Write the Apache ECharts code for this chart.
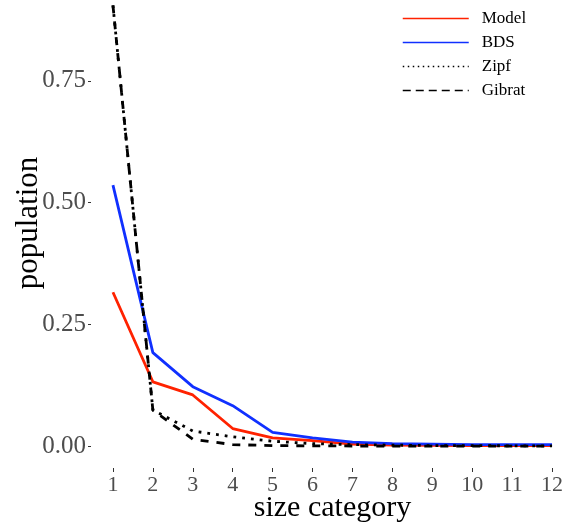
<!DOCTYPE html>
<html>
<head>
<meta charset="utf-8">
<script src="https://cdn.jsdelivr.net/npm/echarts@6/dist/echarts.min.js"></script>
<style>
  html, body { margin: 0; padding: 0; background: #fff; }
  #chart { width: 566px; height: 527px; }
</style>
</head>
<body>
<div id="chart"></div>
<script>
// size categories on the x axis
const categories = [1, 2, 3, 4, 5, 6, 7, 8, 9, 10, 11, 12];
// share of population per size category
const model  = [0.316, 0.132, 0.105, 0.036, 0.017, 0.011, 0.004, 0.002, 0.0015, 0.001, 0.001, 0.001];
const bds    = [0.536, 0.192, 0.122, 0.083, 0.028, 0.017, 0.008, 0.005, 0.004, 0.003, 0.003, 0.003];
const zipf   = [0.905, 0.074, 0.031, 0.019, 0.010, 0.005, 0.003, 0.002, 0.001, 0.001, 0.0005, 0.0005];
const gibrat = [0.905, 0.074, 0.014, 0.003, 0.001, 0.0005, 0.0002, 0, 0, 0, 0, 0];
// tick labels
const xTicks = [1, 2, 3, 4, 5, 6, 7, 8, 9, 10, 11, 12];
const yTicks = [0, 0.25, 0.5, 0.75];

const serif = 'Liberation Serif';
const pairs = arr => categories.map((c, i) => [c, arr[i]]);

const chart = echarts.init(document.getElementById('chart'), null, { renderer: 'canvas' });
chart.setOption({
  animation: false,
  backgroundColor: '#ffffff',
  textStyle: { fontFamily: serif },
  grid: { left: 91, right: -8, top: 0, bottom: 59, containLabel: false, outerBoundsMode: 'none' },
  legend: {
    orient: 'vertical',
    left: 402,
    top: 10,
    itemWidth: 66,
    itemHeight: 14,
    itemGap: 7,
    padding: 0,
    textStyle: { fontFamily: serif, fontSize: 17, color: '#000', padding: [0, 0, 0, 8] },
    itemStyle: { opacity: 0 },
    lineStyle: { width: 1.5 },
    data: [
      { name: 'Model' },
      { name: 'BDS' },
      { name: 'Zipf', lineStyle: { width: 1.5, type: [1.5, 3.5] } },
      { name: 'Gibrat', lineStyle: { width: 1.5, type: [8, 5] } }
    ]
  },
  xAxis: {
    type: 'value',
    min: 0.45,
    max: 12.55,
    name: 'size category',
    nameLocation: 'middle',
    nameGap: 25,
    nameMoveOverlap: false,
    nameTextStyle: { fontFamily: serif, fontSize: 30, color: '#000' },
    axisLine: { show: false, onZero: false },
    splitLine: { show: false },
    axisTick: { show: true, length: 4, customValues: xTicks, lineStyle: { color: '#333', width: 1 } },
    axisLabel: {
      customValues: xTicks,
      margin: 6,
      fontFamily: serif, fontSize: 22, color: '#4d4d4d',
      formatter: v => String(v)
    }
  },
  yAxis: {
    type: 'value',
    min: -0.045,
    max: 0.916,
    name: 'population',
    nameLocation: 'middle',
    nameGap: 47,
    nameMoveOverlap: false,
    nameRotate: 90,
    nameTextStyle: { fontFamily: serif, fontSize: 31, color: '#000', padding: [0, 0, 0, 22] },
    axisLine: { show: false, onZero: false },
    splitLine: { show: false },
    axisTick: { show: true, length: 3, customValues: yTicks, lineStyle: { color: '#333', width: 1 } },
    axisLabel: {
      customValues: yTicks,
      margin: 5,
      fontFamily: serif, fontSize: 25, color: '#4d4d4d',
      formatter: v => v.toFixed(2)
    }
  },
  series: [
    { name: 'Model', type: 'line', data: pairs(model), symbol: 'none', clip: true,
      lineStyle: { color: '#ff2200', width: 2.8 }, itemStyle: { color: '#ff2200' } },
    { name: 'BDS', type: 'line', data: pairs(bds), symbol: 'none', clip: true,
      lineStyle: { color: '#1030ff', width: 2.8 }, itemStyle: { color: '#1030ff' } },
    { name: 'Zipf', type: 'line', data: pairs(zipf), symbol: 'none', clip: true,
      lineStyle: { color: '#000', width: 2.8, type: [2.8, 6] }, itemStyle: { color: '#000' } },
    { name: 'Gibrat', type: 'line', data: pairs(gibrat), symbol: 'none', clip: true,
      lineStyle: { color: '#000', width: 2.8, type: [8, 8] }, itemStyle: { color: '#000' } }
  ]
});
</script>
</body>
</html>
